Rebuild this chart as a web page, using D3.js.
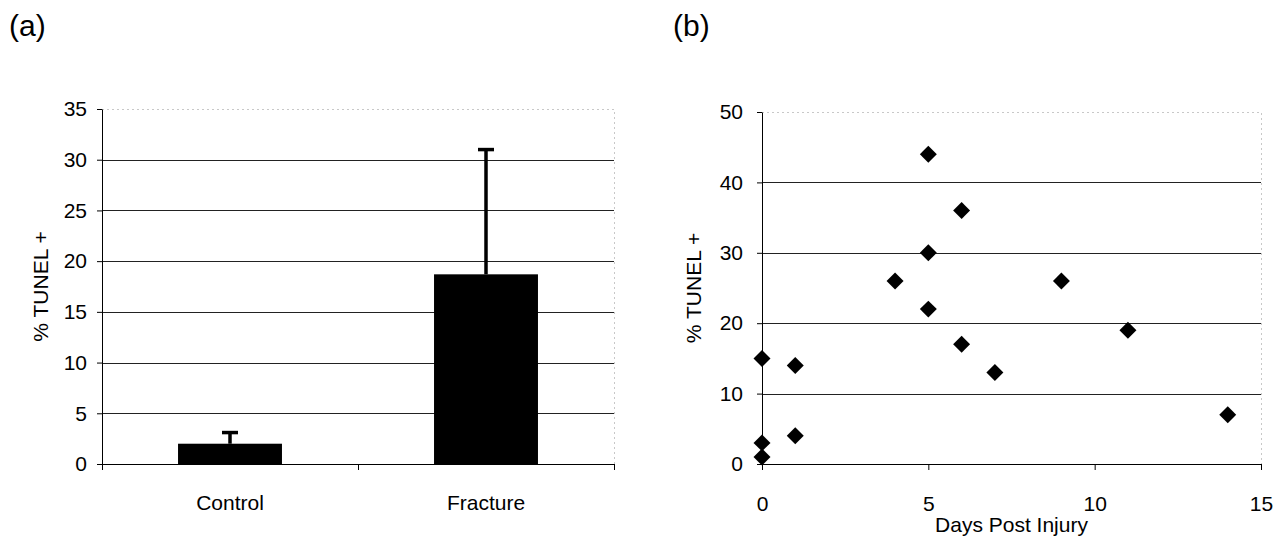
<!DOCTYPE html>
<html>
<head>
<meta charset="utf-8">
<script src="https://cdn.jsdelivr.net/npm/d3@7"></script>
<style>
  body { margin: 0; background: #fff; }
  svg { display: block; font-family: "Liberation Sans", Arial, sans-serif; }
  .axis path, .axis line { stroke: #000; }
  .axis text { font-size: 21px; fill: #000; font-family: "Liberation Sans", Arial, sans-serif; }
  .grid { stroke: #222; stroke-width: 1; }
  .frame { stroke: #c8c8c8; stroke-width: 1; stroke-dasharray: 2,3; fill: none; }
</style>
</head>
<body>
<svg class="canvas"></svg>
<script>
// panel (a)
var groups = ["Control", "Fracture"];
var meanTunel = [2.0, 18.7];
var errTunel = [1.1, 12.3];
var ticksA = [0, 5, 10, 15, 20, 25, 30, 35];

// panel (b)
var days = [0, 0, 0, 1, 1, 4, 5, 5, 5, 6, 6, 7, 9, 11, 14];
var tunel = [15, 3, 1, 14, 4, 26, 44, 30, 22, 36, 17, 13, 26, 19, 7];
var ticksBY = [0, 10, 20, 30, 40, 50];
var ticksBX = [0, 5, 10, 15];

var svg = d3.select(".canvas").attr("width", 1276).attr("height", 539);

function drawBars() {
  var left = 102, right = 614, top = 109, bottom = 464;

  var y = d3.scaleLinear().domain([0, 35]).range([bottom, top]);
  var x = d3.scaleBand().domain(groups).range([left, right])
    .paddingInner(0.594).paddingOuter(0.297);

  var g = svg.append("g");

  // gridlines
  g.selectAll(".grid").data(ticksA.filter(function(d) { return d > 0 && d < 35; }))
    .enter().append("line")
    .attr("class", "grid")
    .attr("x1", left).attr("x2", right)
    .attr("y1", function(d) { return Math.round(y(d)) + 0.5; })
    .attr("y2", function(d) { return Math.round(y(d)) + 0.5; });

  g.append("path").attr("class", "frame")
    .attr("d", "M" + left + "," + (top + 0.5) + "H" + (right + 0.5) + "V" + bottom);

  g.selectAll(".bar").data(meanTunel).enter().append("rect")
    .attr("x", function(d, i) { return x(groups[i]); })
    .attr("width", x.bandwidth())
    .attr("y", function(d) { return y(d); })
    .attr("height", function(d) { return bottom - y(d); })
    .attr("fill", "#000");

  // error bars, upper half only
  g.selectAll(".err").data(meanTunel).enter().append("line")
    .attr("x1", function(d, i) { return x(groups[i]) + x.bandwidth() / 2; })
    .attr("x2", function(d, i) { return x(groups[i]) + x.bandwidth() / 2; })
    .attr("y1", function(d) { return y(d); })
    .attr("y2", function(d, i) { return y(d + errTunel[i]); })
    .attr("stroke", "#000").attr("stroke-width", 3.5);

  g.selectAll(".cap").data(meanTunel).enter().append("line")
    .attr("x1", function(d, i) { return x(groups[i]) + x.bandwidth() / 2 - 8; })
    .attr("x2", function(d, i) { return x(groups[i]) + x.bandwidth() / 2 + 8; })
    .attr("y1", function(d, i) { return y(d + errTunel[i]); })
    .attr("y2", function(d, i) { return y(d + errTunel[i]); })
    .attr("stroke", "#000").attr("stroke-width", 3.5);

  g.append("g")
    .attr("class", "axis")
    .attr("transform", "translate(" + left + ",0)")
    .call(d3.axisLeft(y).tickValues(ticksA).tickSize(5).tickPadding(10).tickSizeOuter(0));

  g.append("g")
    .attr("class", "axis")
    .attr("transform", "translate(0," + bottom + ")")
    .call(d3.axisBottom(x).tickSize(0).tickPadding(31).tickSizeOuter(0));

  // tick marks between categories
  g.selectAll(".xtick").data([left, (left + right) / 2, right]).enter().append("line")
    .attr("x1", function(d) { return d + 0.5; }).attr("x2", function(d) { return d + 0.5; })
    .attr("y1", bottom).attr("y2", bottom + 6)
    .attr("stroke", "#000");

  g.append("text")
    .attr("transform", "translate(48," + ((top + bottom) / 2) + ") rotate(-90)")
    .attr("text-anchor", "middle")
    .attr("font-size", 21)
    .text("% TUNEL +");

  g.append("text").attr("x", 9).attr("y", 36).attr("font-size", 30).text("(a)");
}

function drawScatter() {
  var left = 762, right = 1261, top = 112, bottom = 464;

  var y = d3.scaleLinear().domain([0, 50]).range([bottom, top]);
  var x = d3.scaleLinear().domain([0, 15]).range([left, right]);

  var g = svg.append("g");

  g.selectAll(".grid").data(ticksBY.filter(function(d) { return d > 0 && d < 50; }))
    .enter().append("line")
    .attr("class", "grid")
    .attr("x1", left).attr("x2", right)
    .attr("y1", function(d) { return Math.round(y(d)) + 0.5; })
    .attr("y2", function(d) { return Math.round(y(d)) + 0.5; });

  g.append("path").attr("class", "frame")
    .attr("d", "M" + left + "," + (top + 0.5) + "H" + (right + 0.5) + "V" + bottom);

  g.append("g")
    .attr("class", "axis")
    .attr("transform", "translate(" + left + ",0)")
    .call(d3.axisLeft(y).tickValues(ticksBY).tickSize(5).tickPadding(14).tickSizeOuter(0));

  g.append("g")
    .attr("class", "axis")
    .attr("transform", "translate(0," + bottom + ")")
    .call(d3.axisBottom(x).tickValues(ticksBX).tickSize(6).tickPadding(26).tickSizeOuter(0));

  g.selectAll(".pt").data(tunel).enter().append("rect")
    .attr("x", -6).attr("y", -6)
    .attr("width", 12).attr("height", 12)
    .attr("fill", "#000")
    .attr("transform", function(d, i) {
      return "translate(" + x(days[i]) + "," + y(d) + ") rotate(45)";
    });

  g.append("text")
    .attr("transform", "translate(701," + ((top + bottom) / 2) + ") rotate(-90)")
    .attr("text-anchor", "middle")
    .attr("font-size", 21)
    .text("% TUNEL +");

  g.append("text")
    .attr("x", (left + right) / 2).attr("y", 532)
    .attr("text-anchor", "middle")
    .attr("font-size", 21)
    .text("Days Post Injury");

  g.append("text").attr("x", 673).attr("y", 36).attr("font-size", 30).text("(b)");
}

drawBars();
drawScatter();
</script>
</body>
</html>
